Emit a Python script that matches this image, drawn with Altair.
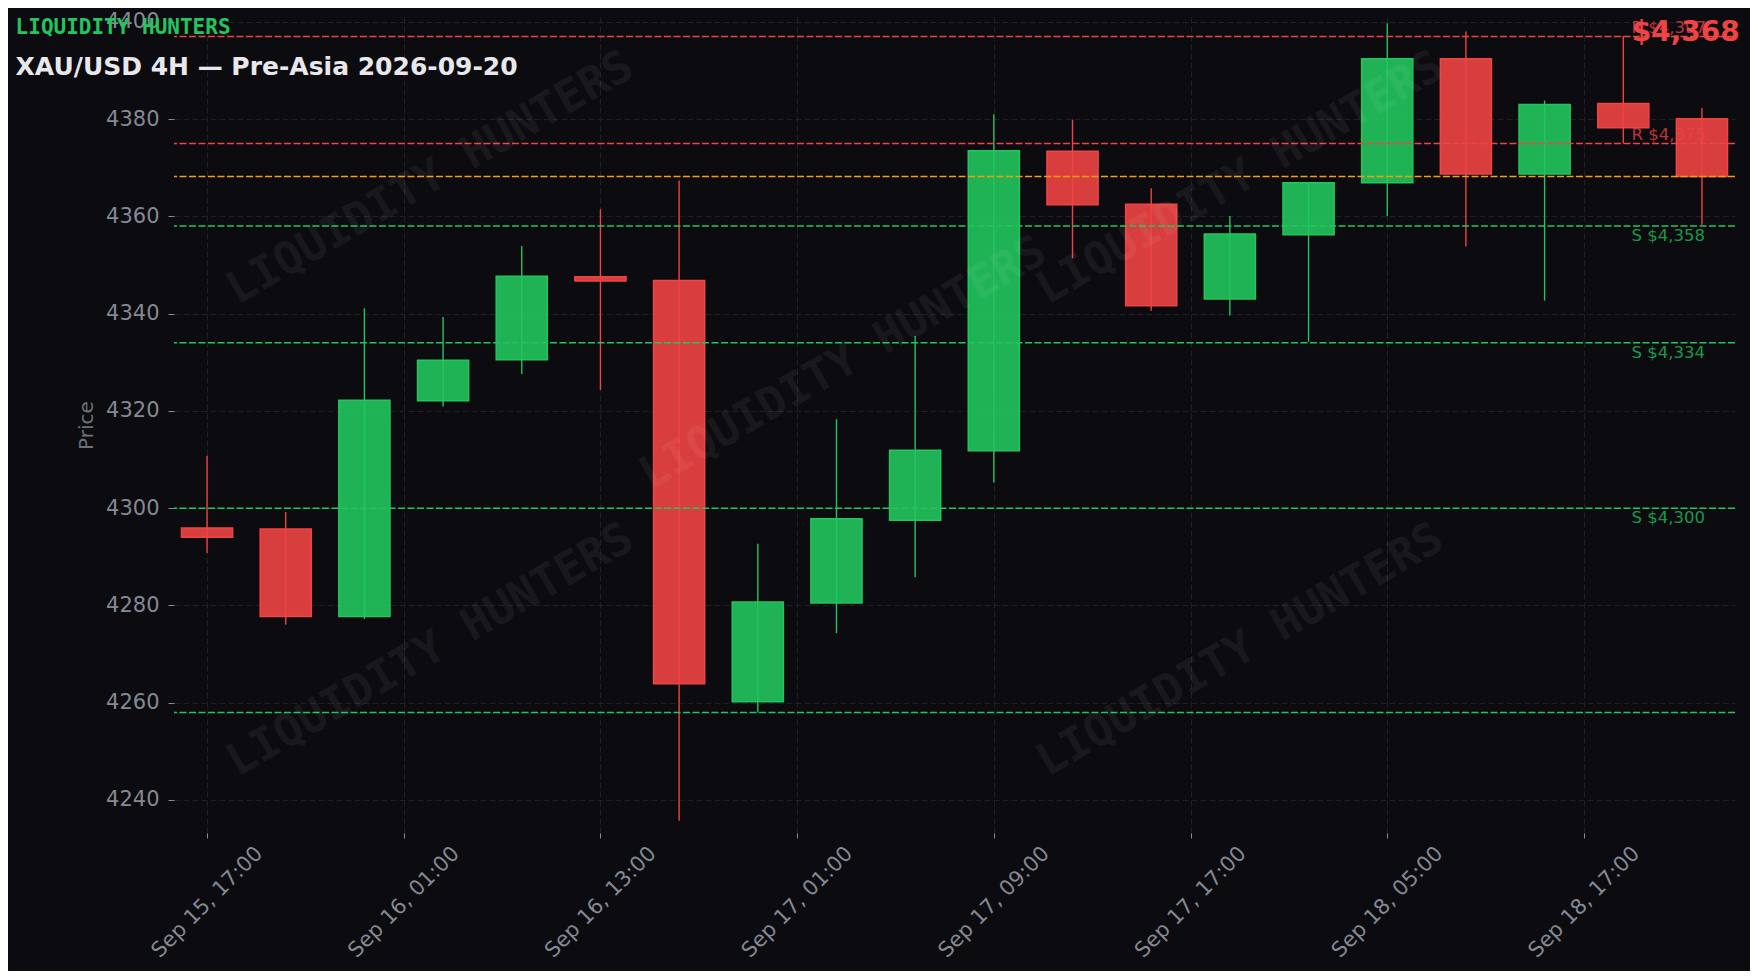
import altair as alt
import pandas as pd

# ---------------- data ----------------
opens  = [4295.9, 4295.7, 4277.7, 4322.1, 4330.5, 4347.6, 4346.8, 4260.2, 4280.5, 4297.5,
          4311.8, 4373.4, 4362.5, 4343.0, 4356.2, 4366.9, 4392.4, 4368.7, 4383.2, 4380.1]
highs  = [4310.8, 4299.2, 4341.1, 4339.3, 4353.9, 4361.5, 4367.4, 4292.7, 4318.3, 4335.4,
          4381.0, 4379.9, 4365.8, 4360.1, 4367.0, 4399.7, 4398.0, 4383.8, 4397.1, 4382.3]
lows   = [4290.8, 4276.0, 4277.2, 4320.9, 4327.6, 4324.3, 4235.7, 4258.0, 4274.3, 4285.8,
          4305.3, 4351.4, 4340.6, 4339.6, 4334.2, 4360.1, 4353.8, 4342.7, 4375.0, 4358.3]
closes = [4294.0, 4277.7, 4322.2, 4330.4, 4347.7, 4346.7, 4263.9, 4280.7, 4297.8, 4311.9,
          4373.5, 4362.4, 4341.6, 4356.4, 4366.9, 4392.4, 4368.7, 4383.0, 4378.2, 4368.2]

tick_pos = [0, 2.5, 5, 7.5, 10, 12.5, 15, 17.5]
tick_labels = ["Sep 15, 17:00", "Sep 16, 01:00", "Sep 16, 13:00", "Sep 17, 01:00",
               "Sep 17, 09:00", "Sep 17, 17:00", "Sep 18, 05:00", "Sep 18, 17:00"]
y_ticks = [4240, 4260, 4280, 4300, 4320, 4340, 4360, 4380, 4400]

level_values = [4397, 4375, 4358, 4334, 4300, 4258]
level_kinds  = ["R", "R", "S", "S", "S", "S"]
labelled_levels = [4397, 4375, 4358, 4334, 4300]
current_price = 4368.2

brand = "LIQUIDITY HUNTERS"
title = "XAU/USD 4H — Pre-Asia 2026-09-20"

# ---------------- style ----------------
W, H = 1561, 816
BG = "#0b0b10"
GREEN = "#22c55e"
RED = "#ef4444"
ORANGE = "#f59e0b"
GRID = "#20202a"
TICKC = "#858993"

candles = pd.DataFrame({"i": list(range(len(opens))), "open": opens, "high": highs,
                        "low": lows, "close": closes})
levels = pd.DataFrame({"value": level_values + [current_price],
                       "kind": level_kinds + ["P"]})
lab_rows = [(v, k) for v, k in zip(level_values, level_kinds) if v in labelled_levels]
labels = pd.DataFrame({"value": [v for v, k in lab_rows],
                       "kind": [k for v, k in lab_rows],
                       "label": [f"{k} ${v:,}" for v, k in lab_rows]})

color_scale = alt.Scale(domain=["up", "down", "R", "S", "P"],
                        range=[GREEN, RED, RED, GREEN, ORANGE])
xscale = alt.Scale(domain=[-0.42, 19.42], nice=False, zero=False)
yscale = alt.Scale(domain=[4233.2, 4401.0], nice=False, zero=False)

label_expr = " : ".join(f"datum.value == {p} ? '{l}'" for p, l in zip(tick_pos, tick_labels)) + " : ''"

x_axis = alt.Axis(values=tick_pos, labelExpr=label_expr, title=None, grid=True,
                  gridDash=[6, 3], gridColor=GRID, gridWidth=1, domain=False,
                  ticks=True, tickSize=5, tickColor=TICKC, labelAngle=315,
                  labelAlign="center", labelBaseline="middle", labelPadding=64,
                  labelFontSize=21, labelColor=TICKC, labelFont="DejaVu Sans",
                  labelFlush=False, labelOverlap=False)
y_axis = alt.Axis(values=y_ticks, format="d", title="Price", grid=True, gridDash=[6, 3],
                  gridColor=GRID, gridWidth=1, domain=False, ticks=True, tickSize=6,
                  tickColor=TICKC, labelPadding=9, labelFontSize=21, labelColor=TICKC,
                  labelFont="DejaVu Sans", labelOverlap=False, labelFlush=False,
                  titleFontSize=20, titleFontWeight="normal", titleColor="#6e727c",
                  titleFont="DejaVu Sans", titleX=-88, titleY=H / 2, titleAngle=270,
                  titleAlign="center", titleBaseline="middle")

base = alt.Chart(candles).transform_calculate(
    dir="datum.close >= datum.open ? 'up' : 'down'",
    x0="datum.i - 0.325",
    x1="datum.i + 0.325",
)

wicks = base.mark_rule(strokeWidth=1.4).encode(
    x=alt.X("i:Q", scale=xscale, axis=x_axis),
    y=alt.Y("low:Q", scale=yscale, axis=y_axis),
    y2="high:Q",
    color=alt.Color("dir:N", scale=color_scale, legend=None),
)

bodies = base.mark_rect(strokeWidth=1.5, fillOpacity=0.9).encode(
    x=alt.X("x0:Q", scale=xscale, axis=x_axis),
    x2="x1:Q",
    y=alt.Y("open:Q", scale=yscale, axis=y_axis),
    y2="close:Q",
    fill=alt.Fill("dir:N", scale=color_scale, legend=None),
    stroke=alt.Stroke("dir:N", scale=color_scale, legend=None),
)

level_lines = alt.Chart(levels).mark_rule(strokeWidth=1.5, strokeDash=[7, 2.5]).encode(
    y=alt.Y("value:Q", scale=yscale, axis=y_axis),
    color=alt.Color("kind:N", scale=color_scale, legend=None),
)

LABEL_X = 1457.5
lab_r = alt.Chart(labels).transform_filter("datum.kind == 'R'").mark_text(
    align="left", baseline="alphabetic", dy=-3, fontSize=16.5, opacity=0.75,
    font="DejaVu Sans").encode(
    x=alt.value(LABEL_X),
    y=alt.Y("value:Q", scale=yscale, axis=y_axis),
    text="label:N",
    color=alt.Color("kind:N", scale=color_scale, legend=None),
)
lab_s = alt.Chart(labels).transform_filter("datum.kind == 'S'").mark_text(
    align="left", baseline="top", dy=2, fontSize=16.5, opacity=0.75,
    font="DejaVu Sans").encode(
    x=alt.value(LABEL_X),
    y=alt.Y("value:Q", scale=yscale, axis=y_axis),
    text="label:N",
    color=alt.Color("kind:N", scale=color_scale, legend=None),
)

def text_layer(txt, x, y, **kw):
    return alt.Chart(pd.DataFrame({"t": [txt]})).mark_text(**kw).encode(
        x=alt.value(x), y=alt.value(y), text="t:N")

brand_t = text_layer(brand, -158.4, 17, align="left", baseline="alphabetic",
                     font="DejaVu Sans Mono", fontWeight="bold", fontSize=21, color=GREEN)
title_t = text_layer(title, -158.4, 58, align="left", baseline="alphabetic",
                     font="DejaVu Sans", fontWeight="bold", fontSize=25, color="#e8e8ec")
price_t = text_layer(f"${round(current_price):,}", 1457.7, 23.7, align="left",
                     baseline="alphabetic", font="DejaVu Sans", fontWeight="bold",
                     fontSize=28, color=RED)

wm_positions = [(256, 161), (1066, 161), (669, 346), (256, 633), (1066, 633)]
watermarks = [text_layer(brand, px, py, align="center", baseline="middle", angle=330,
                         font="DejaVu Sans Mono", fontWeight="bold", fontSize=45,
                         color="#ffffff", opacity=0.05)
              for px, py in wm_positions]

chart = alt.layer(wicks, bodies, level_lines, lab_r, lab_s, *watermarks,
                  brand_t, title_t, price_t).properties(
    width=W, height=H,
    autosize=alt.AutoSizeParams(type="none"),
    padding={"left": 166, "top": 9, "right": 15, "bottom": 138},
    background=BG,
).configure_view(stroke=None)

chart.save("out.html", embed_options={"renderer": "svg", "actions": False})
